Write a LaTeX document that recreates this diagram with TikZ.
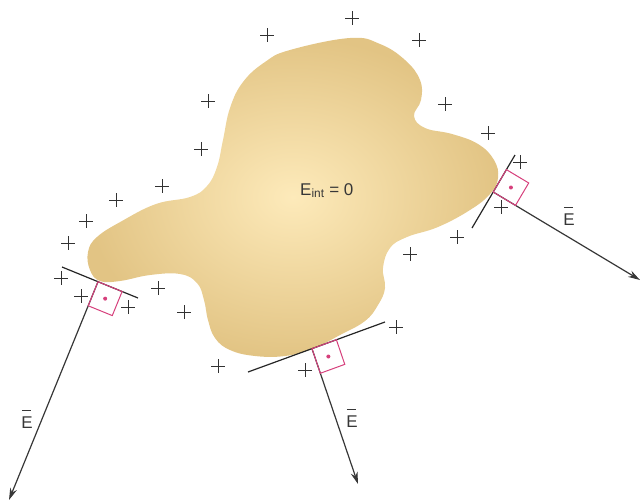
\documentclass[tikz,border=0pt]{standalone}
\usepackage{fontspec}
\setmainfont{Liberation Sans}
\usetikzlibrary{calc,arrows.meta,shapes.misc}
\definecolor{blobdark}{RGB}{226,196,132}
\definecolor{blobligh}{RGB}{253,234,186}
\definecolor{pinkq}{RGB}{214,64,124}
\definecolor{inkgray}{RGB}{55,55,55}
\definecolor{plusgray}{RGB}{50,50,50}
\newcommand{\barE}{\makebox[0pt][l]{\hspace{0.6pt}\rule[18pt]{9.5pt}{0.8pt}}E}
\tikzset{
  plusmark/.style={draw=plusgray, line width=0.9pt, cross out, rotate=45, minimum size=8.5pt, inner sep=0pt},
  tangentline/.style={draw=black!85, line width=1.2pt},
  fieldline/.style={draw=inkgray, line width=1.2pt, -{Stealth[length=12pt,width=7pt]}},
  rightsq/.style={draw=pinkq, line width=1pt},
  labeltext/.style={text=inkgray, font=\fontsize{17}{17}\selectfont, inner sep=0pt}
}
\begin{document}
\begin{tikzpicture}[x=1pt,y=-1pt]
\useasboundingbox (0,0) rectangle (640,499);
% conductor
\shade[inner color=blobligh, outer color=blobdark] plot[smooth cycle, tension=0.7] coordinates {
(290,50) (350,38) (380,44) (405,60) (420,80) (421,100) (414,116) (425,128) (452,134) (478,144) (494,160) (498,178) (490,194) (470,210) (438,227) (407,237) (390,248) (383,268) (385,288) (378,305) (365,321) (340,335) (312,349) (285,356) (255,356) (230,350) (215,338) (208,320) (204,300) (197,283) (180,274) (150,275) (120,281) (100,281) (90,270) (88,252) (97,237) (122,221) (156,204) (190,197) (207,186) (217,167) (223,140) (230,108) (243,82) (265,62)};
\node[labeltext, anchor=base west] (eint) at (300,195) {E\textsubscript{int} = 0};
% tangent lines and contact points
\coordinate (La) at (62,267);  \coordinate (Ra) at (138,298);
\coordinate (Lb) at (248,372); \coordinate (Rb) at (385,322);
\coordinate (Lc) at (472,228); \coordinate (Rc) at (515,155);
\coordinate (Ca) at ($(La)!0.474!(Ra)$);
\coordinate (Cb) at ($(Lb)!0.467!(Rb)$);
\coordinate (Cc) at ($(Lc)!0.493!(Rc)$);
\coordinate (Aa) at (9,500);
\coordinate (Ab) at (358,484);
\coordinate (Ac) at (640,280);
\draw[tangentline] (La) -- (Ra);
\draw[tangentline] (Lb) -- (Rb);
\draw[tangentline] (Lc) -- (Rc);
\draw[fieldline] (Ca) -- (Aa);
\draw[fieldline] (Cb) -- (Ab);
\draw[fieldline] (Cc) -- (Ac);
\foreach \c/\r/\a in {Ca/Ra/Aa, Cb/Rb/Ab, Cc/Rc/Ac}{
  \coordinate (\c-1) at ($(\c)!26pt!(\r)$);
  \coordinate (\c-3) at ($(\c)!26pt!(\a)$);
  \coordinate (\c-2) at ($(\c-1)+(\c-3)-(\c)$);
  \draw[rightsq] (\c) -- (\c-1) -- (\c-2) -- (\c-3) -- cycle;
  \fill[pinkq] ($(\c)!0.5!(\c-2)$) circle (2pt);
}
% field labels
\node[labeltext] (ea) at (27,419) {\barE};
\node[labeltext] (eb) at (352,418) {\barE};
\node[labeltext] (ec) at (569,216) {\barE};
% charges
\foreach \x/\y [count=\i] in {267/35, 352/18, 419/40, 208/101, 445/104, 201/149, 488/133, 162/186, 116/200, 86/221, 68/243, 61/278, 81/296, 128/307, 158/288, 184/312, 218/366, 305/370, 396/327, 410/254, 457/237, 501/207, 520/162}{
  \node[plusmark] (p\i) at (\x,\y) {};
}
\end{tikzpicture}
\end{document}
